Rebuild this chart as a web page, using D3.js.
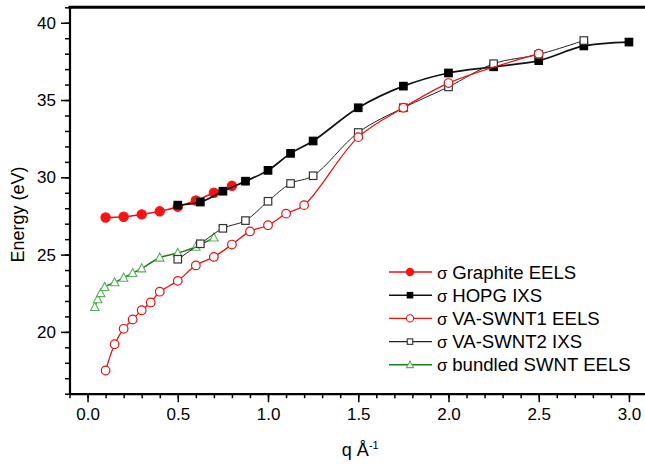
<!DOCTYPE html>
<html>
<head>
<meta charset="utf-8">
<script src="https://cdn.jsdelivr.net/npm/d3@7"></script>
<style>
  html, body { margin: 0; padding: 0; background: #fff; }
  svg { display: block; }
  text { font-family: "Liberation Sans", Arial, sans-serif; fill: #000; }
</style>
</head>
<body>
<svg id="chart" width="645" height="464"></svg>
<script>
// ---------- data ----------
const graphiteQ = [0.1, 0.2, 0.3, 0.4, 0.5, 0.6, 0.7, 0.8];
const graphiteE = [27.4, 27.45, 27.6, 27.8, 28.1, 28.5, 29.0, 29.45];

const hopgQ = [0.5, 0.625, 0.75, 0.875, 1.0, 1.125, 1.25, 1.5, 1.75, 2.0, 2.25, 2.5, 2.75, 3.0];
const hopgE = [28.2, 28.4, 29.1, 29.75, 30.45, 31.55, 32.35, 34.5, 35.9, 36.75, 37.15, 37.55, 38.5, 38.75];

const swnt1Q = [0.1, 0.15, 0.2, 0.25, 0.3, 0.35, 0.4, 0.5, 0.6, 0.7, 0.8, 0.9, 1.0, 1.1, 1.2, 1.5, 1.75, 2.0, 2.5];
const swnt1E = [17.5, 19.2, 20.2, 20.8, 21.4, 21.9, 22.6, 23.3, 24.3, 24.85, 25.65, 26.5, 26.9, 27.65, 28.2, 32.6, 34.5, 36.1, 38.0];

const swnt2Q = [0.5, 0.625, 0.75, 0.875, 1.0, 1.125, 1.25, 1.5, 1.75, 2.0, 2.25, 2.5, 2.75];
const swnt2E = [24.7, 25.7, 26.7, 27.2, 28.45, 29.6, 30.1, 32.9, 34.5, 35.85, 37.35, 37.95, 38.85];

const bundledQ = [0.04, 0.056, 0.073, 0.095, 0.15, 0.2, 0.25, 0.3, 0.4, 0.5, 0.6, 0.7];
const bundledE = [21.6, 22.1, 22.5, 22.9, 23.2, 23.5, 23.8, 24.1, 24.8, 25.1, 25.5, 26.1];

const seriesNames = ["Graphite EELS", "HOPG IXS", "VA-SWNT1 EELS", "VA-SWNT2 IXS", "bundled SWNT EELS"];

const xMajorTicks = [0, 0.5, 1.0, 1.5, 2.0, 2.5, 3.0];
const yMajorTicks = [20, 25, 30, 35, 40];

const xTitle = "q Å";
const xTitleSup = "-1";
const yTitle = "Energy (eV)";

// ---------- layout ----------
const W = 645, H = 464;
const pLeft = 69.5, pRight = 647, pTop = 7.3, pBottom = 393.7;

const svg = d3.select("#chart");
const x = d3.scaleLinear().domain([-0.1, 3.1]).range([pLeft, pRight]);
const y = d3.scaleLinear().domain([16, 41]).range([pBottom, pTop]);

const zip = (qs, es) => qs.map((q, i) => ({ q, e: es[i] }));

const styles = [
  { name: seriesNames[0], data: zip(graphiteQ, graphiteE), line: "#ee1111", lw: 1.6, marker: "circle", fill: "#ff1010", stroke: "#ff1010", size: 4.6 },
  { name: seriesNames[1], data: zip(hopgQ, hopgE), line: "#111", lw: 1.7, marker: "square", fill: "#000", stroke: "#000", size: 7.5 },
  { name: seriesNames[4], data: zip(bundledQ, bundledE), line: "#1d7d1d", lw: 1.5, marker: "triangle", fill: "#fff", stroke: "#58b058", size: 8.5 },
  { name: seriesNames[3], data: zip(swnt2Q, swnt2E), line: "#222", lw: 1.0, marker: "square", fill: "#fff", stroke: "#333", size: 7.5 },
  { name: seriesNames[2], data: zip(swnt1Q, swnt1E), line: "#ee1111", lw: 1.3, marker: "circle", fill: "#fff", stroke: "#ee1111", size: 4.3 }
];

// ---------- axes ----------
svg.append("g")
  .attr("transform", `translate(0,${pBottom})`)
  .call(d3.axisBottom(x).tickValues(d3.range(-1, 32).map(v => v / 10)).tickSize(4.5).tickFormat(""))
  .call(g => g.select(".domain").remove())
  .call(g => g.selectAll("line").attr("stroke-width", 1.5));
svg.append("g")
  .attr("transform", `translate(${pLeft},0)`)
  .call(d3.axisLeft(y).tickValues(d3.range(16, 42)).tickSize(4.5).tickFormat(""))
  .call(g => g.select(".domain").remove())
  .call(g => g.selectAll("line").attr("stroke-width", 1.5));

const xAxis = svg.append("g")
  .attr("transform", `translate(0,${pBottom})`)
  .call(d3.axisBottom(x).tickValues(xMajorTicks).tickSize(8.5).tickSizeOuter(0).tickPadding(6).tickFormat(d3.format(".1f")));
xAxis.selectAll("line").attr("stroke-width", 1.5);
xAxis.select(".domain").attr("stroke-width", 2.2);
xAxis.selectAll("text").style("font-size", "17px").attr("font-family", null);

const yAxis = svg.append("g")
  .attr("transform", `translate(${pLeft},0)`)
  .call(d3.axisLeft(y).tickValues(yMajorTicks).tickSize(8.5).tickSizeOuter(0).tickPadding(5).tickFormat(d3.format("d")));
yAxis.selectAll("line").attr("stroke-width", 1.5);
yAxis.select(".domain").attr("stroke-width", 2.2);
yAxis.selectAll("text").style("font-size", "17px").attr("font-family", null);

svg.append("line")
  .attr("x1", pLeft - 1).attr("x2", pRight + 2)
  .attr("y1", y(41)).attr("y2", y(41))
  .attr("stroke", "#000").attr("stroke-width", 3);
svg.append("line")
  .attr("x1", pRight).attr("x2", pRight)
  .attr("y1", y(41)).attr("y2", y(16))
  .attr("stroke", "#000").attr("stroke-width", 2.2);

// ---------- series ----------
const lineGen = d3.line().x(d => x(d.q)).y(d => y(d.e)).curve(d3.curveCatmullRom.alpha(0.5));

function drawMarker(g, type, cx, cy, s) {
  if (type === "circle") {
    return g.append("circle").attr("cx", cx).attr("cy", cy).attr("r", s.size);
  } else if (type === "square") {
    return g.append("rect").attr("x", cx - s.size / 2).attr("y", cy - s.size / 2)
      .attr("width", s.size).attr("height", s.size);
  } else {
    const h = s.size;
    const pts = [[cx, cy - h * 0.55], [cx - h / 2, cy + h * 0.4], [cx + h / 2, cy + h * 0.4]];
    return g.append("polygon").attr("points", pts.map(p => p.join(",")).join(" "));
  }
}

styles.forEach(s => {
  const g = svg.append("g");
  g.append("path").datum(s.data)
    .attr("d", lineGen)
    .attr("fill", "none")
    .attr("stroke", s.line)
    .attr("stroke-width", s.lw);
  s.data.forEach(d => {
    drawMarker(g, s.marker, x(d.q), y(d.e), s)
      .attr("fill", s.fill).attr("stroke", s.stroke).attr("stroke-width", s.marker === "triangle" ? 1.1 : 1.2);
  });
});

// ---------- legend ----------
const legendOrder = [0, 1, 4, 3, 2];
const lg = svg.append("g");
const lx0 = 389, lx1 = 432, lxm = 410, ltx = 437, ly0 = 272, ldy = 23.2;
legendOrder.forEach((si, i) => {
  const s = styles[si];
  const yy = ly0 + i * ldy;
  lg.append("line").attr("x1", lx0).attr("x2", lx1).attr("y1", yy).attr("y2", yy)
    .attr("stroke", s.line).attr("stroke-width", 1.4);
  const small = Object.assign({}, s, { size: s.marker === "circle" ? 3.6 : (s.marker === "square" ? 5.5 : 7) });
  drawMarker(lg, s.marker, lxm, yy, small)
    .attr("fill", s.fill).attr("stroke", s.stroke).attr("stroke-width", 1.1);
  const t = lg.append("text").attr("x", ltx).attr("y", yy + 6.5).style("font-size", "18.6px");
  t.append("tspan").style("font-size", "17px").text("σ ");
  t.append("tspan").text(s.name);
});

// ---------- titles ----------
const xt = svg.append("text")
  .attr("x", (pLeft + pRight) / 2 + 2).attr("y", 456)
  .attr("text-anchor", "middle").style("font-size", "18px");
xt.append("tspan").text(xTitle);
xt.append("tspan").attr("dy", -7).style("font-size", "11px").text(xTitleSup);

svg.append("text")
  .attr("transform", `translate(24,${(y(41) + y(16)) / 2 + 14}) rotate(-90)`)
  .attr("text-anchor", "middle").style("font-size", "18px")
  .text(yTitle);
</script>
</body>
</html>
